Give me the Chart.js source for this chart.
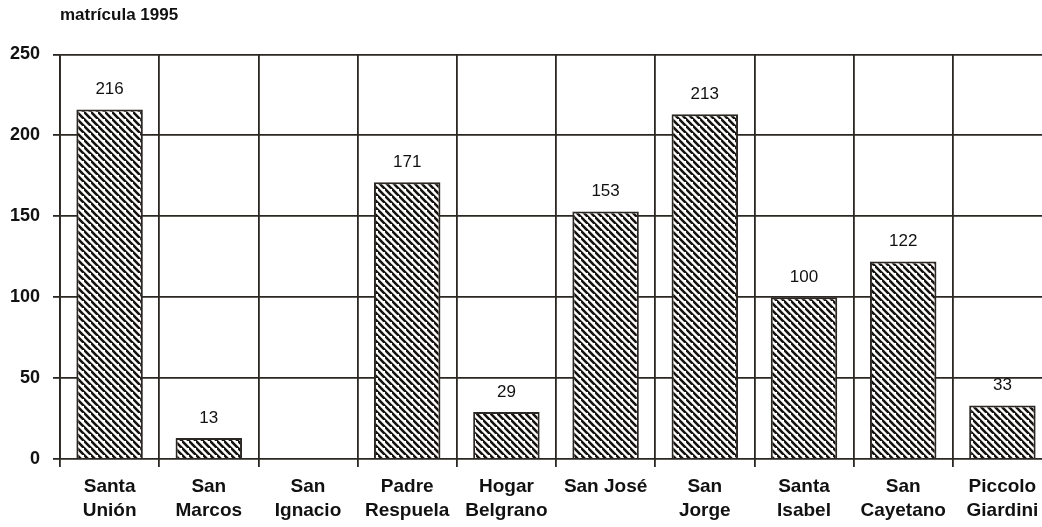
<!DOCTYPE html>
<html lang="es">
<head>
  <meta charset="UTF-8" />
  <title>matrícula 1995</title>
  <style>
    body {
      margin: 0;
      background: #ffffff;
      overflow: hidden;
    }
    .wrap {
      width: 1060px;
      height: 527px;
    }
  </style>
</head>
<body>
  <div class="wrap">
    <canvas id="chart" width="1060" height="527"></canvas>
  </div>

  <script src="https://cdn.jsdelivr.net/npm/chart.js"></script>
  <script>
    // data
    const schools = [
      ['Santa', 'Unión'], ['San', 'Marcos'], ['San', 'Ignacio'], ['Padre', 'Respuela'],
      ['Hogar', 'Belgrano'], ['San José'], ['San', 'Jorge'], ['Santa', 'Isabel'],
      ['San', 'Cayetano'], ['Piccolo', 'Giardini']
    ];
    const enrolment = [216, 13, 0, 171, 29, 153, 213, 100, 122, 33];
    const yTicks = [0, 50, 100, 150, 200, 250];

    const ink = '#2b2722';
    const face = '"Liberation Sans", Arial, sans-serif';

    // diagonal hatch fill
    function hatch() {
      const s = 7;
      const c = document.createElement('canvas');
      c.width = s; c.height = s;
      const g = c.getContext('2d');
      g.fillStyle = '#ffffff';
      g.fillRect(0, 0, s, s);
      g.strokeStyle = '#15120f';
      g.lineWidth = 2.6;
      g.beginPath();
      g.moveTo(-1, -1); g.lineTo(s + 1, s + 1);
      g.moveTo(-s - 1, -1); g.lineTo(1, s + 1);
      g.moveTo(s - 1, -s - 1); g.lineTo(2 * s + 1, s + 1);
      g.stroke();
      return g.createPattern(c, 'repeat');
    }

    // value labels above the bars
    const valueLabels = {
      id: 'valueLabels',
      afterDatasetsDraw(chart) {
        const ctx = chart.ctx;
        const meta = chart.getDatasetMeta(0);
        ctx.save();
        ctx.font = '17px ' + face;
        ctx.fillStyle = '#111';
        ctx.textAlign = 'center';
        ctx.textBaseline = 'middle';
        meta.data.forEach((bar, i) => {
          const v = enrolment[i];
          if (!v) return;
          ctx.fillText(String(v), bar.x, bar.y - 20);
        });
        ctx.restore();
      }
    };

    const ctx = document.getElementById('chart').getContext('2d');
    new Chart(ctx, {
      type: 'bar',
      data: {
        labels: schools,
        datasets: [{
          data: enrolment,
          backgroundColor: hatch(),
          borderColor: ink,
          borderWidth: 2,
          categoryPercentage: 1,
          barPercentage: 0.67
        }]
      },
      options: {
        responsive: false,
        animation: false,
        layout: { padding: { right: 8, bottom: 0 } },
        plugins: {
          legend: { display: false },
          tooltip: { enabled: false },
          title: {
            display: true,
            text: 'matrícula 1995',
            align: 'start',
            fullSize: false,
            color: '#111',
            font: { family: face, size: 17, weight: 'bold' },
            padding: { top: 5, bottom: 29 }
          }
        },
        scales: {
          x: {
            afterFit: s => { s.height = 68; },
            grid: {
              offset: true,
              color: ink,
              lineWidth: 1.8,
              tickLength: 8
            },
            border: { display: false },
            ticks: {
              color: '#111',
              padding: 8,
              maxRotation: 0,
              autoSkip: false,
              font: { family: face, size: 19, weight: 'bold', lineHeight: 1.27 }
            }
          },
          y: {
            min: 0,
            max: 250,
            afterFit: s => { s.width = 60; },
            afterBuildTicks: s => { s.ticks = yTicks.map(v => ({ value: v })); },
            grid: {
              color: ink,
              lineWidth: 1.8,
              tickLength: 7
            },
            border: { color: ink, width: 1.8 },
            ticks: {
              color: '#111',
              padding: 13,
              font: { family: face, size: 18, weight: 'bold' }
            }
          }
        }
      },
      plugins: [valueLabels]
    });
  </script>
</body>
</html>
